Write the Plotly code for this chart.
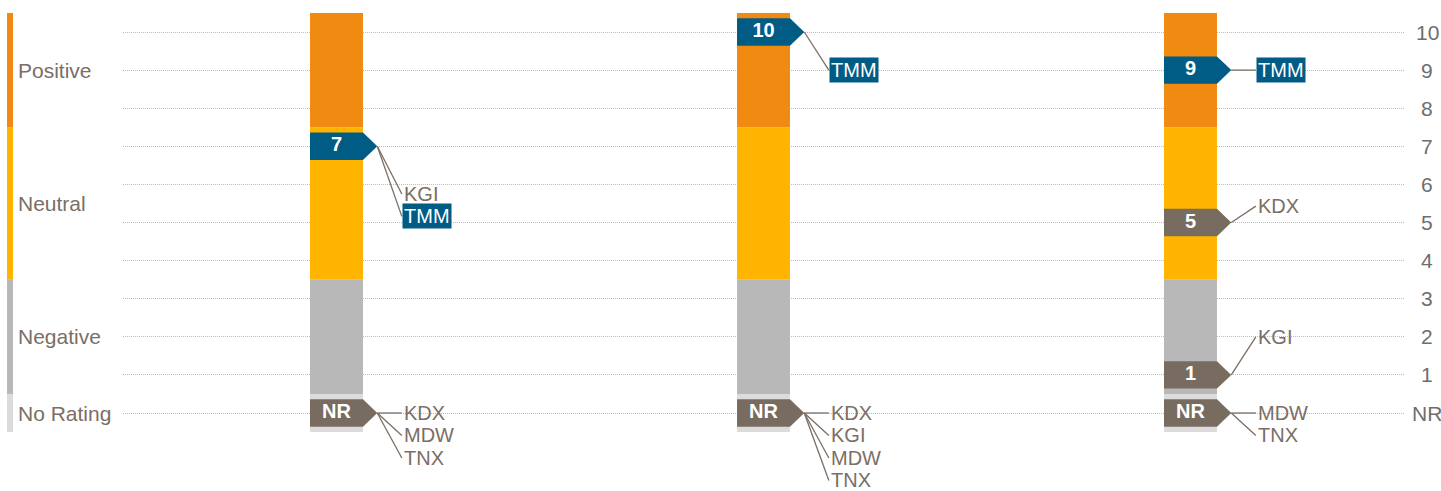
import plotly.graph_objects as go

# ---------------- data ----------------
columns = ["Column 1", "Column 2", "Column 3"]
brokers = ["KDX", "KGI", "MDW", "TMM", "TNX"]
ratings_col1 = ["NR", 7, "NR", 7, "NR"]
ratings_col2 = ["NR", "NR", "NR", 10, "NR"]
ratings_col3 = [5, 1, "NR", 9, "NR"]
highlight_broker = "TMM"

band_names = ["No Rating", "Negative", "Neutral", "Positive"]
band_low = [-0.5, 0.5, 3.5, 7.5]
band_high = [0.5, 3.5, 7.5, 10.5]

tick_values = [0, 1, 2, 3, 4, 5, 6, 7, 8, 9, 10]
tick_labels = ["NR", "1", "2", "3", "4", "5", "6", "7", "8", "9", "10"]

# ---------------- style / layout ----------------
band_colors = ["#DCDCDC", "#B8B8B8", "#FFB400", "#F08A11"]
BLUE = "#005B85"
BROWN = "#786C61"
TEXT = "#7A6E66"
TICK = "#6E6E6E"
FONT = "Arial, Liberation Sans, sans-serif"

BAR_W = 0.124          # bar width in column units
TIP_X = 0.0955         # pentagon tip offset
HALF_H = 0.36          # pentagon half height (rating units)
LABEL_X = 0.153        # leader line end offset
LABEL_STEP = 0.59      # vertical spacing between stacked labels
# first-label vertical anchor per (column index, rating group)
label_anchor = {
    (0, 7): 5.75, (0, 0): 0.0,
    (1, 10): 9.0, (1, 0): 0.0,
    (2, 9): 9.0, (2, 5): 5.43, (2, 1): 2.0, (2, 0): 0.0,
}

all_ratings = [ratings_col1, ratings_col2, ratings_col3]


def rating_value(r):
    return 0 if r == "NR" else r


fig = go.Figure()

# stacked rating bands in every column
xs = list(range(len(columns)))
for name, lo, hi, col in zip(band_names, band_low, band_high, band_colors):
    fig.add_trace(go.Bar(
        x=xs, base=[lo] * len(xs), y=[hi - lo] * len(xs), width=BAR_W,
        marker=dict(color=col, line=dict(width=0)), name=name,
        showlegend=False, hoverinfo="skip"))

annotations = []
for ci, ratings in enumerate(all_ratings):
    groups = {}
    for b, r in zip(brokers, ratings):
        groups.setdefault(r, []).append(b)
    for r, members in groups.items():
        v = rating_value(r)
        members = sorted(members)
        color = BLUE if highlight_broker in members else BROWN
        # pentagon marker
        px = [ci - BAR_W / 2, ci + BAR_W / 2, ci + TIP_X, ci + BAR_W / 2, ci - BAR_W / 2, ci - BAR_W / 2]
        py = [v + HALF_H, v + HALF_H, v, v - HALF_H, v - HALF_H, v + HALF_H]
        fig.add_trace(go.Scatter(x=px, y=py, mode="lines", fill="toself",
                                 fillcolor=color, line=dict(width=0, color=color),
                                 showlegend=False, hoverinfo="skip"))
        fig.add_trace(go.Scatter(x=[ci], y=[v], mode="text", text=[str(r)],
                                 textposition="middle center",
                                 textfont=dict(family=FONT, size=20, color="white", weight="bold"),
                                 showlegend=False, hoverinfo="skip"))
        start = label_anchor[(ci, v)]
        for k, b in enumerate(members):
            ly = start - k * LABEL_STEP
            fig.add_trace(go.Scatter(x=[ci + TIP_X, ci + LABEL_X], y=[v, ly], mode="lines",
                                     line=dict(color=TEXT, width=1.3),
                                     showlegend=False, hoverinfo="skip"))
            is_hl = (b == highlight_broker)
            annotations.append(dict(
                x=ci + LABEL_X, y=ly, xref="x", yref="y", text=b, showarrow=False,
                xanchor="left", yanchor="middle",
                font=dict(family=FONT, size=20, color="white" if is_hl else TEXT),
                bgcolor=BLUE if is_hl else "rgba(0,0,0,0)", borderpad=1))

# left legend strip
PLOT_L, PLOT_W = 123, 1281
shapes = []
for name, lo, hi, col in zip(band_names, band_low, band_high, band_colors):
    shapes.append(dict(type="rect", xref="paper", yref="y",
                       x0=(7 - PLOT_L) / PLOT_W, x1=(13 - PLOT_L) / PLOT_W,
                       y0=lo, y1=hi, fillcolor=col, line=dict(width=0)))
    annotations.append(dict(x=(16 - PLOT_L) / PLOT_W, y=(lo + hi) / 2, xref="paper", yref="y",
                            text=name, showarrow=False, xanchor="left", yanchor="middle",
                            font=dict(family=FONT, size=21, color=TEXT)))

# right-hand rating scale (centred labels on the y scale)
for tv, tl in zip(tick_values, tick_labels):
    annotations.append(dict(x=(1427 - PLOT_L) / PLOT_W, y=tv, xref="paper", yref="y",
                            text=tl, showarrow=False, xanchor="center", yanchor="middle",
                            font=dict(family=FONT, size=21, color=TICK)))

fig.update_layout(
    width=1441, height=491, autosize=False,
    margin=dict(l=PLOT_L, r=1441 - PLOT_L - PLOT_W, t=0, b=0),
    plot_bgcolor="white", paper_bgcolor="white",
    barmode="overlay", showlegend=False,
    shapes=shapes, annotations=annotations,
    xaxis=dict(range=[-0.5, 2.5], visible=False, fixedrange=True),
    yaxis=dict(range=[-2.047, 10.84], side="right", tickvals=tick_values,
               showticklabels=False,
               showgrid=True, gridcolor="#BDBDBD", griddash="1px,1px", gridwidth=1,
               zeroline=False, showline=False, ticks="", automargin=False, fixedrange=True),
)

fig.write_html("out.html", config={"displayModeBar": False},
               post_script="document.body.style.margin='0px';")
